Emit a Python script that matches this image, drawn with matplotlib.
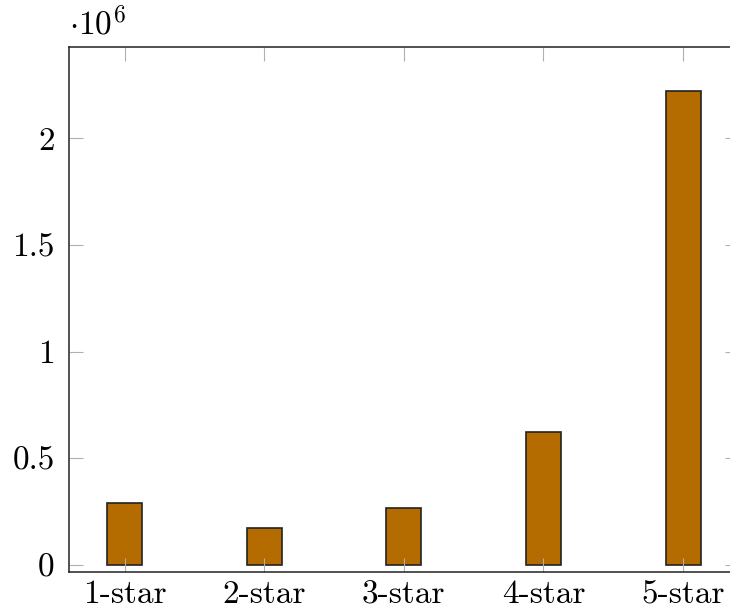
import numpy as np
import matplotlib.pyplot as plt

plt.rcParams['font.family'] = 'serif'
plt.rcParams['font.serif'] = ['cmr10']
plt.rcParams['mathtext.fontset'] = 'cm'
plt.rcParams['axes.formatter.use_mathtext'] = True

categories = ["1-star", "2-star", "3-star", "4-star", "5-star"]
counts = [289000, 172000, 266000, 621000, 2222000]
y_ticks = [0, 0.5, 1, 1.5, 2]
y_tick_labels = ["0", "0.5", "1", "1.5", "2"]

fig = plt.figure(figsize=(7.30, 6.11), dpi=100)
ax = fig.add_axes([68.7 / 730, 1 - 572 / 611, (739 - 68.7) / 730, (572 - 47) / 611])

x = np.arange(len(categories))
ax.bar(x, np.array(counts) / 1e6, width=0.25, color='#b46c00',
       edgecolor='#222222', linewidth=1.2)

ax.set_xlim(-0.4, 4.4)
ax.set_ylim(-0.033, 2.427)
ax.set_xticks(x)
ax.set_xticklabels(categories)
ax.set_yticks(y_ticks)
ax.set_yticklabels(y_tick_labels)

for s in ax.spines.values():
    s.set_linewidth(1.1)
    s.set_color('#222222')

ax.tick_params(axis='both', direction='in', length=10, width=0.8,
               color='#b0b0b0', labelsize=24, top=True, right=True)
ax.tick_params(axis='y', pad=10)
ax.tick_params(axis='x', pad=6)

ax.text(0.0, 1.012, r'$\cdot 10^{6}$', transform=ax.transAxes,
        fontsize=24, ha='left', va='bottom')

fig.savefig('out.png', dpi=100)
